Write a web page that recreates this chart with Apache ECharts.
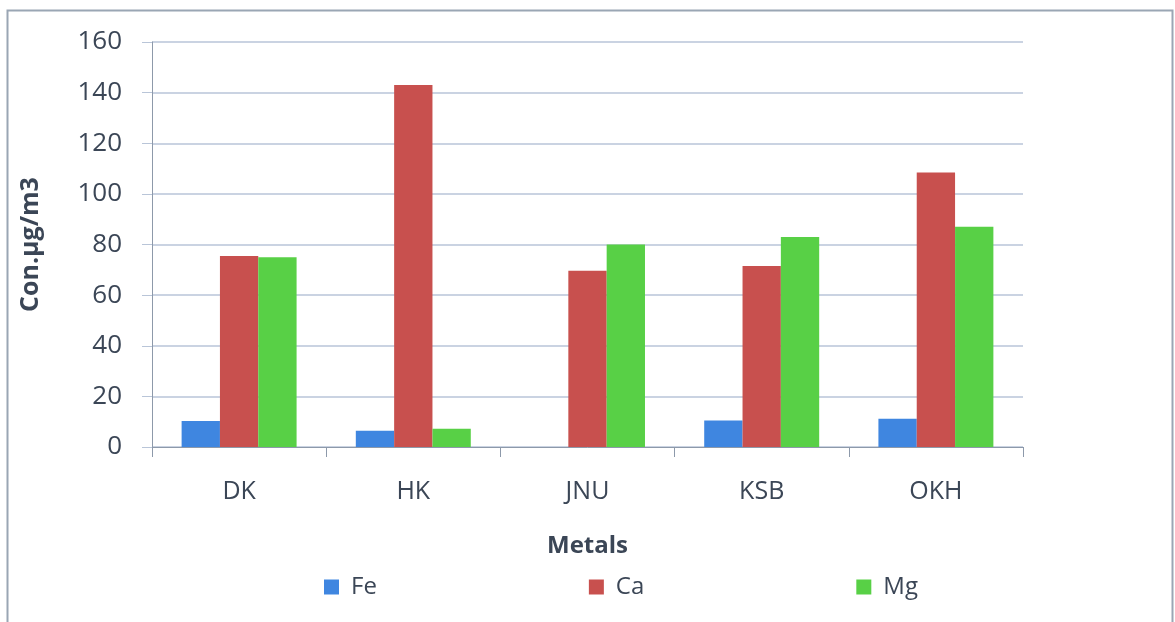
<!DOCTYPE html>
<html>
<head>
<meta charset="utf-8">
<script src="https://cdn.jsdelivr.net/npm/echarts@6/dist/echarts.min.js"></script>
<style>
  html, body { margin: 0; padding: 0; background: #ffffff; }
  #chart { width: 1175px; height: 622px; }
</style>
</head>
<body>
<div id="chart"></div>
<script>
// Sampling sites
const sites = ['DK', 'HK', 'JNU', 'KSB', 'OKH'];
// Metal concentrations (µg/m3) per site
const fe = [10.3, 6.4, 0, 10.5, 11.2];
const ca = [75.5, 143, 69.6, 71.5, 108.4];
const mg = [75, 7.2, 80, 83, 87];
const yTicks = [0, 20, 40, 60, 80, 100, 120, 140, 160];

const textColor = '#3b4656';
const gridColor = '#b9c5d8';
const font = 'Open Sans';

const chart = echarts.init(document.getElementById('chart'), null, { renderer: 'canvas' });

chart.setOption({
  animation: false,
  backgroundColor: '#ffffff',
  graphic: [{
    type: 'rect',
    shape: { x: 7.5, y: 10.5, width: 1165, height: 630 },
    style: { fill: 'none', stroke: '#9aa6b4', lineWidth: 2 }
  }],
  grid: { left: 152, right: 152, top: 42, height: 405 },
  legend: {
    data: ['Fe', 'Ca', 'Mg'],
    left: 319, top: 570,
    itemWidth: 15, itemHeight: 15, itemGap: 212,
    icon: 'rect',
    textStyle: { fontFamily: font, fontSize: 24, color: textColor, padding: [0, 0, 0, 7] }
  },
  xAxis: {
    type: 'category',
    data: sites,
    name: 'Metals',
    nameLocation: 'middle',
    nameGap: 87,
    nameTextStyle: { fontFamily: font, fontSize: 24, fontWeight: 'bold', color: textColor },
    axisLine: { lineStyle: { color: '#8d99aa', width: 1 } },
    axisTick: { show: true, length: 10, lineStyle: { color: '#8d99aa' } },
    axisLabel: { fontFamily: font, fontSize: 25, color: textColor, margin: 32 }
  },
  yAxis: {
    type: 'value',
    min: 0, max: 160, interval: 20,
    name: 'Con.µg/m3',
    nameLocation: 'middle',
    nameGap: 109,
    nameRotate: 90,
    nameTextStyle: { fontFamily: font, fontSize: 25, fontWeight: 'bold', color: textColor },
    axisLine: { show: true, lineStyle: { color: '#8d99aa', width: 1 } },
    axisTick: { show: true, length: 10, lineStyle: { color: gridColor } },
    axisLabel: {
      fontFamily: font, fontSize: 26, color: textColor, margin: 30,
      formatter: v => yTicks.includes(v) ? String(v) : ''
    },
    splitLine: { lineStyle: { color: gridColor, width: 1.5 } }
  },
  series: [
    { name: 'Fe', type: 'bar', data: fe, barGap: '0%', barCategoryGap: '34%', itemStyle: { color: '#3f86e0' } },
    { name: 'Ca', type: 'bar', data: ca, barGap: '0%', barCategoryGap: '34%', itemStyle: { color: '#c8504e' } },
    { name: 'Mg', type: 'bar', data: mg, barGap: '0%', barCategoryGap: '34%', itemStyle: { color: '#58d046' } }
  ]
});
</script>
</body>
</html>
